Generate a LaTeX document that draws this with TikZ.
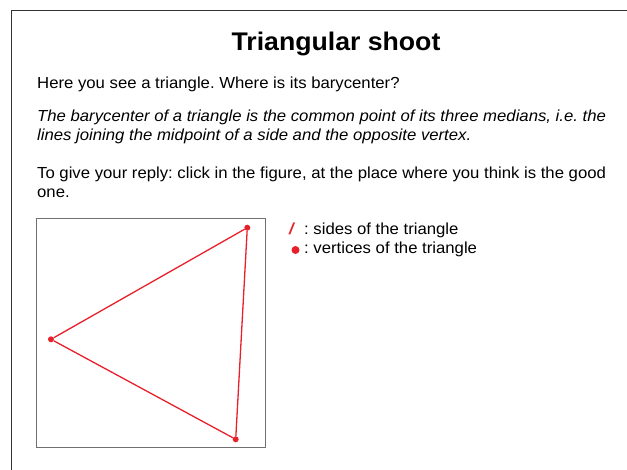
\documentclass[tikz,border=0pt]{standalone}
\usepackage{fontspec}
\setmainfont[FakeStretch=1.045]{Liberation Sans}
\frenchspacing
\definecolor{tri}{HTML}{E8202A}
\definecolor{frame}{HTML}{333333}
\definecolor{boxc}{HTML}{707070}
\begin{document}
\begin{tikzpicture}[x=1pt,y=-1pt,
  txt/.style={anchor=base west,inner sep=0pt,font=\fontsize{16}{19}\selectfont},
  side/.style={draw=tri,line width=1.3pt},
  vert/.style={circle,fill=tri,inner sep=0pt,minimum size=6pt}]
\useasboundingbox (0,0) rectangle (627,470);
\draw[frame,line width=1pt] (11,480) -- (11,11) -- (640,11);
\node[anchor=base,inner sep=0pt,font=\fontsize{25.5}{30}\selectfont\bfseries] (title) at (336,51) {Triangular shoot};
\node[txt] (l1) at (37,89) {Here you see a triangle. Where is its barycenter?};
\node[txt,font=\fontsize{16}{19}\selectfont\itshape] (l2) at (37,122) {The barycenter of a triangle is the common point of its three medians, i.e. the};
\node[txt,font=\fontsize{16}{19}\selectfont\itshape] (l3) at (37,140.5) {lines joining the midpoint of a side and the opposite vertex.};
\node[txt] (l4) at (37,179) {To give your reply: click in the figure, at the place where you think is the good};
\node[txt] (l5) at (37,197.5) {one.};
\draw[boxc,line width=1pt] (36.5,219) rectangle (265.5,447.5);
\node[vert] (a) at (247.3,227.7) {};
\node[vert] (b) at (51,339.3) {};
\node[vert] (c) at (235.7,439.3) {};
\draw[side] (a) -- (b) -- (c) -- (a);
\node[txt,text=tri,font=\fontsize{16}{19}\selectfont\bfseries\itshape] (slash) at (289,234.3) {/};
\node[txt] (lg1) at (304,234.3) {: sides of the triangle};
\node[vert,minimum size=8pt] (dot) at (295.5,250) {};
\node[txt] (lg2) at (304,254) {: vertices of the triangle};
\end{tikzpicture}
\end{document}
